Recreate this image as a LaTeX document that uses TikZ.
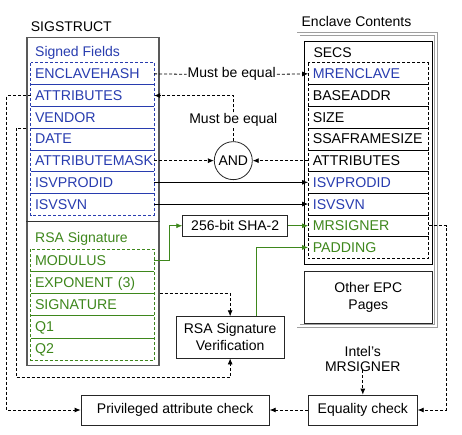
\documentclass[tikz,border=0pt]{standalone}
\usepackage{fontspec}
\setmainfont{Liberation Sans}
\usetikzlibrary{arrows.meta,calc}
\definecolor{sgblue}{RGB}{40,60,175}
\definecolor{sggreen}{RGB}{62,135,28}
\begin{document}
\begin{tikzpicture}[x=1pt,y=-1pt,
  every node/.style={font=\fontsize{14}{15}\selectfont},
  rowL/.style={minimum width=123.3pt, minimum height=21.7pt, text width=114.7pt, inner xsep=4.3pt, inner ysep=0pt, align=left, text height=12pt, text depth=2pt, font=\fontsize{14.2}{15}\selectfont},
  rowG/.style={rowL, minimum height=22.1pt},
  rowR/.style={rowL, minimum width=120pt, text width=111pt, inner xsep=4.5pt},
  lbl/.style={inner sep=0pt},
  boxn/.style={draw=black!85, line width=0.8pt, inner sep=2pt, align=center},
  dsh/.style={line width=0.8pt, dash pattern=on 3pt off 2pt},
  arr/.style={-{Latex[length=6pt,width=5pt]}},
  ln/.style={line width=0.8pt}
]
\useasboundingbox (0,0) rectangle (462,435);

% ---------- SIGSTRUCT ----------
\node[lbl, anchor=west] (sigT) at (30.7,27) {SIGSTRUCT};
\node[draw=black!65, line width=1.3pt, minimum width=132pt, minimum height=328pt, inner sep=0pt] (sig) at (93,201.7) {};
\node[lbl, anchor=west, text=sgblue] (sfT) at (35,53) {Signed Fields};

\node[rowL, text=sgblue] (ehash) at (92.35,73.85) {ENCLAVEHASH};
\node[rowL, text=sgblue] (attrL) at (92.35,95.55) {ATTRIBUTES};
\node[rowL, text=sgblue] (vendor) at (92.35,117.25) {VENDOR};
\node[rowL, text=sgblue] (date) at (92.35,138.95) {DATE};
\node[rowL, text=sgblue] (amask) at (92.35,160.65) {ATTRIBUTEMASK};
\node[rowL, text=sgblue] (prodL) at (92.35,182.35) {ISVPRODID};
\node[rowL, text=sgblue] (svnL) at (92.35,204.05) {ISVSVN};
\draw[sgblue, dsh] (ehash.north west) rectangle (svnL.south east);
\foreach \r in {ehash,attrL,vendor,date,amask,prodL}
  \draw[sgblue, ln] (\r.south west) -- (\r.south east);

\coordinate (sepc) at (93,221);
\draw[black!80, ln] (sig.west |- sepc) -- (sig.east |- sepc);

\node[lbl, anchor=west, text=sggreen] (rsaT) at (35,239) {RSA Signature};
\node[rowG, text=sggreen] (modulus) at (92.35,260.35) {MODULUS};
\node[rowG, text=sggreen] (expo) at (92.35,282.45) {EXPONENT (3)};
\node[rowG, text=sggreen] (signat) at (92.35,304.55) {SIGNATURE};
\node[rowG, text=sggreen] (qone) at (92.35,326.65) {Q1};
\node[rowG, text=sggreen] (qtwo) at (92.35,348.75) {Q2};
\draw[sggreen, dsh] (modulus.north west) rectangle (qtwo.south east);
\foreach \r in {modulus,expo,signat,qone}
  \draw[sggreen, ln] (\r.south west) -- (\r.south east);

% ---------- Enclave Contents ----------
\node[lbl] (encT) at (356.5,21.7) {Enclave Contents};
\node[draw=gray!75, line width=0.9pt, double=white, double distance=2.1pt, minimum width=137.3pt, minimum height=292.4pt, inner sep=0pt] (enc) at (367.15,180) {};
\node[draw=black, line width=0.8pt, minimum width=128pt, minimum height=223.3pt, inner sep=0pt] (secsbox) at (368.3,152.65) {};
\node[lbl, anchor=west] (secsT) at (313.3,53) {SECS};

\node[rowR, text=sgblue] (mrenc) at (368.3,73.85) {MRENCLAVE};
\node[rowR] (base) at (368.3,95.55) {BASEADDR};
\node[rowR] (size) at (368.3,117.25) {SIZE};
\node[rowR] (ssa) at (368.3,138.95) {SSAFRAMESIZE};
\node[rowR] (attrR) at (368.3,160.65) {ATTRIBUTES};
\node[rowR, text=sgblue] (prodR) at (368.3,182.35) {ISVPRODID};
\node[rowR, text=sgblue] (svnR) at (368.3,204.05) {ISVSVN};
\node[rowR, text=sggreen] (mrsig) at (368.3,225.75) {MRSIGNER};
\node[rowR, text=sggreen] (padding) at (368.3,247.45) {PADDING};
\draw[black, dsh] (mrenc.north west) rectangle (padding.south east);
\foreach \r in {mrenc,base,size,ssa,attrR,prodR,svnR,mrsig}
  \draw[black, ln] (\r.south west) -- (\r.south east);

\node[boxn, minimum width=128pt, minimum height=52.3pt, font=\fontsize{14}{17}\selectfont] (epc) at (368.3,297.15) {Other EPC\\Pages};

% ---------- middle ----------
\node[lbl, inner sep=1pt] (me1) at (231.7,74.3) {Must be equal};
\node[lbl, inner sep=1pt] (me2) at (233.3,120) {Must be equal};
\node[draw=black!85, line width=0.8pt, circle, minimum size=38pt, inner sep=0pt] (and) at (233.3,160.65) {AND};

\draw[dsh] (ehash.east) -- (me1.west);
\draw[dsh, arr] (me1.east) -- (mrenc.west);
\draw[dsh] (and.north) -- (me2.south);
\draw[dsh, arr] (me2.north) |- (attrL.east);
\draw[dsh, arr] (amask.east) -- (and.west);
\draw[dsh, arr] (attrR.west) -- (and.east);
\draw[ln, arr] (prodL.east) -- (prodR.west);
\draw[ln, arr] (svnL.east) -- (svnR.west);

\node[boxn, minimum width=105pt, minimum height=21pt] (sha) at (235.2,225.75) {256-bit SHA-2};
\draw[sggreen, ln, arr] (modulus.east) -- ++(15.3,0) |- (sha.west);
\draw[sggreen, ln, arr] (sha.east) -- (mrsig.west);

\node[boxn, minimum width=108.3pt, minimum height=41.3pt, font=\fontsize{14}{17}\selectfont] (rsa) at (230.15,337.35) {RSA Signature\\Verification};
\draw[sggreen, ln, arr] ([xshift=26.5pt]rsa.north) |- (padding.west);
\draw[dsh, arr] (sig.east |- expo.south) -| (rsa.north);
\draw[dsh, arr] (sig.west |- vendor.south) -| ($(sig.south west)+(-10.3,11)$) -| (rsa.south);

% ---------- bottom ----------
\node[boxn, minimum width=188.3pt, minimum height=30pt] (priv) at (175.15,410) {Privileged attribute check};
\node[boxn, minimum width=109pt, minimum height=30pt] (eq) at (362.8,410) {Equality check};
\node[lbl, align=center, font=\fontsize{14}{15}\selectfont] (intel) at (362.8,359.2) {Intel’s\\MRSIGNER};

\draw[dsh, arr] (attrL.west) -- ++(-24,0) |- (priv.west);
\draw[dsh, arr] (eq.west) -- (priv.east);
\draw[dsh, arr] ([yshift=2pt]intel.south) -- (eq.north);
\draw[dsh, arr] (mrsig.east) -- ++(17.7,0) |- (eq.east);
\end{tikzpicture}
\end{document}
